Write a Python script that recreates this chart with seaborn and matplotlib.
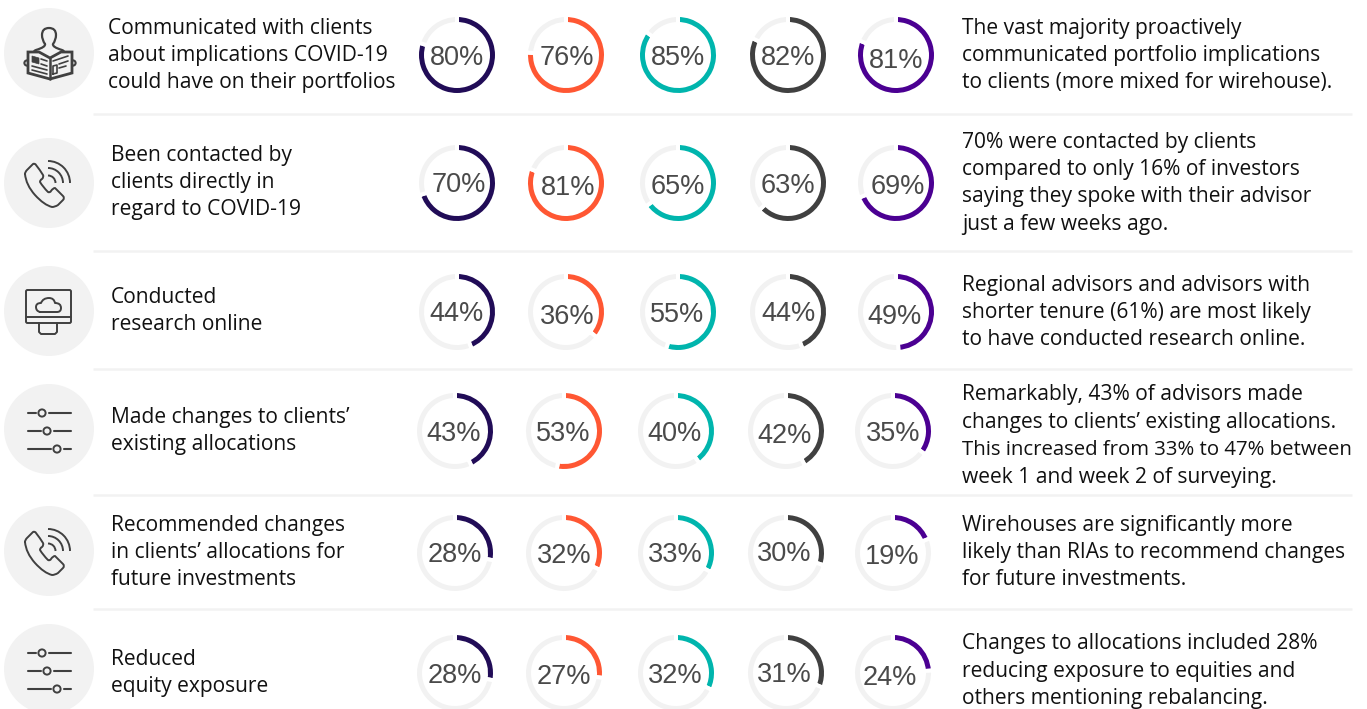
import matplotlib
matplotlib.use("Agg")
import matplotlib.pyplot as plt
from matplotlib.patches import Arc, Circle, FancyBboxPatch, Polygon
from matplotlib.path import Path
from matplotlib.patches import PathPatch
import seaborn as sns

# Survey results, one row per advisor action, one value per advisor segment
row_labels = [
    ["Communicated with clients", "about implications COVID-19", "could have on their portfolios"],
    ["Been contacted by", "clients directly in", "regard to COVID-19"],
    ["Conducted", "research online"],
    ["Made changes to clients’", "existing allocations"],
    ["Recommended changes", "in clients’ allocations for", "future investments"],
    ["Reduced", "equity exposure"],
]
segment_a = [80, 70, 44, 43, 28, 28]
segment_b = [76, 81, 36, 53, 32, 27]
segment_c = [85, 65, 55, 40, 33, 32]
segment_d = [82, 63, 44, 42, 30, 31]
segment_e = [81, 69, 49, 35, 19, 24]
commentary = [
    ["The vast majority proactively", "communicated portfolio implications", "to clients (more mixed for wirehouse)."],
    ["70% were contacted by clients", "compared to only 16% of investors", "saying they spoke with their advisor", "just a few weeks ago."],
    ["Regional advisors and advisors with", "shorter tenure (61%) are most likely", "to have conducted research online."],
    ["Remarkably, 43% of advisors made", "changes to clients’ existing allocations.", "This increased from 33% to 47% between", "week 1 and week 2 of surveying."],
    ["Wirehouses are significantly more", "likely than RIAs to recommend changes", "for future investments."],
    ["Changes to allocations included 28%", "reducing exposure to equities and", "others mentioning rebalancing."],
]
segments = [segment_a, segment_b, segment_c, segment_d, segment_e]
palette = sns.color_palette(["#210C57", "#FF5733", "#00B5AD", "#404040", "#4B0092"])

sns.set_theme(style="white")
plt.rcParams["font.family"] = ["Open Sans", "DejaVu Sans"]

fig = plt.figure(figsize=(13.67, 7.09), dpi=100, facecolor="white")
ax = fig.add_axes([0, 0, 1, 1])

# Layout in pixels: y grows downward
donut_x = [[457, 566, 678, 788, 896]] * 3 + [[455, 564, 676, 786, 893]] * 3
donut_y = [55, 183, 312, 431, 553, 673]
pct_nudge = [
    [(0, 0), (1, 0), (0, 0), (0, 0), (0, 3)],
    [(2, -1), (2, 2), (0, 1), (0, 0), (2, 1)],
    [(0, -1), (1, 2), (-1, 0), (0, -1), (-1, 2)],
    [(-1, 0), (-1, 0), (-2, 0), (-1, 2), (0, 0)],
    [(0, -1), (0, 0), (-1, -1), (-2, -2), (-1, 1)],
    [(0, 0), (0, 1), (-1, 0), (-2, -1), (-3, 2)],
]
label_x = [108, 111, 111, 111, 111, 111]
label_y = [[34, 61, 88], [161, 188, 215], [303, 330], [423, 450], [531, 558, 585], [665, 692]]
note_y = [[34, 61, 88], [148, 175, 202, 230], [291, 318, 345], [400, 428, 455, 483], [531, 558, 585], [649, 677, 704]]
rules_y = [114, 251, 369, 495, 609]
badge_y = [53, 183, 311, 429, 551, 669]
BADGE_X = 49
INK = "#404040"
TRACK = "#F2F2F2"
TEXT_SIZE = 15.15
DIGIT_HEAVY_LINE = "This increased from 33% to 47% between"

for y in rules_y:
    ax.plot([93, 1352], [y, y], color=TRACK, lw=1.8, solid_capstyle="butt", zorder=1)

# Ring geometry: the white wedge edge opens the gaps between the arcs and
# trims halo_px from each rim, so the wedge is drawn that much wider
R = 38
RING = 5
halo_px = 2
for r, (xs, y) in enumerate(zip(donut_x, donut_y)):
    for c, x in enumerate(xs):
        value = segments[c][r]
        # On the flipped y axis a counter-clockwise pie reads clockwise from 12 o'clock
        ax.pie([value, 100 - value], colors=[palette[c], TRACK], startangle=-90,
               counterclock=True, center=(x, y), radius=R + halo_px, frame=True,
               wedgeprops=dict(width=RING + 2 * halo_px, linewidth=2 * halo_px * 0.72, edgecolor="white"))
        dx, dy = pct_nudge[r][c]
        ax.text(x + dx, y + dy, f"{value}%", ha="center", va="center_baseline",
                fontsize=19.5, color="#4A4A4A", family="Liberation Sans", zorder=5)

for r, lines in enumerate(row_labels):
    for line, y in zip(lines, label_y[r]):
        ax.text(label_x[r], y, line, ha="left", va="baseline", fontsize=TEXT_SIZE, color="#111111", zorder=5)
for r, lines in enumerate(commentary):
    for line, y in zip(lines, note_y[r]):
        size = 14.7 if line == DIGIT_HEAVY_LINE else TEXT_SIZE
        ax.text(962, y, line, ha="left", va="baseline", fontsize=size, color="#111111", zorder=5)


def stroke(points, cx, cy, lw=1.4, color=INK):
    ax.plot([cx + p[0] for p in points], [cy + p[1] for p in points], color=color, lw=lw,
            solid_capstyle="round", solid_joinstyle="round", zorder=4)


def curve(start, controls, cx, cy, lw=1.4):
    # Chain of quadratic segments: controls holds (control, end) pairs
    verts = [(cx + start[0], cy + start[1])]
    codes = [Path.MOVETO]
    for ctrl, end in controls:
        verts += [(cx + ctrl[0], cy + ctrl[1]), (cx + end[0], cy + end[1])]
        codes += [Path.CURVE3, Path.CURVE3]
    ax.add_patch(PathPatch(Path(verts, codes), fc="none", ec=INK, lw=lw, capstyle="round", joinstyle="round", zorder=4))


def reader_icon(cx, cy):
    # Head and shoulders outline rising behind an open newspaper
    curve((-4, -9), [((-7, -13), (-7, -18)), ((-7, -25), (0, -25)), ((7, -25), (7, -18)), ((7, -13), (4, -9)),
                     ((3, -6), (13, -3)), ((16, -2), (16, 1))], cx, cy, 1.6)
    curve((-4, -9), [((-3, -6), (-13, -3)), ((-16, -2), (-16, 1))], cx, cy, 1.6)
    ax.add_patch(Polygon([(cx - 21, cy - 1), (cx - 10, cy - 1), (cx + 1, cy + 5), (cx + 12, cy - 1), (cx + 23, cy - 1),
                          (cx + 23, cy + 20), (cx + 1, cy + 26), (cx - 21, cy + 20)],
                         closed=True, fc=TRACK, ec=INK, lw=2, zorder=4))
    stroke([(1, 5), (1, 26)], cx, cy, 1.8)
    for sx in (-22, 24):
        ax.add_patch(Circle((cx + sx, cy + 10), 2.6, fc=TRACK, ec=INK, lw=1.5, zorder=3))
    ax.add_patch(Polygon([(cx - 17, cy + 3), (cx - 10, cy + 5), (cx - 10, cy + 11), (cx - 17, cy + 9)],
                         closed=True, fc=INK, ec=INK, lw=0.5, zorder=5))
    stroke([(-8, 6), (-2, 8)], cx, cy, 1.2)
    stroke([(-8, 11), (-2, 13)], cx, cy, 1.2)
    stroke([(-17, 13), (-2, 17)], cx, cy, 1.2)
    stroke([(-17, 17), (-2, 21)], cx, cy, 1.2)
    stroke([(4, 8), (19, 3)], cx, cy, 1.2)
    stroke([(10, 11), (19, 8)], cx, cy, 1.2)
    stroke([(10, 15), (17, 13)], cx, cy, 1.2)
    stroke([(4, 21), (8, 20), (8, 12), (4, 13), (4, 21)], cx, cy, 1.2)


def phone_icon(cx, cy):
    curve((-24, -9), [((-24, -11), (-22, -13)), ((-19, -16), (-16, -19)), ((-14, -20), (-13, -18)),
                      ((-9, -13), (-6, -8)), ((-5, -6), (-7, -4)), ((-9, -3), (-9, -1)),
                      ((-6, 4), (-1, 9)), ((1, 10), (2, 8)), ((4, 5), (6, 5)), ((10, 9), (14, 13)),
                      ((16, 15), (14, 17)), ((11, 20), (9, 22)), ((6, 24), (3, 24)),
                      ((-5, 22), (-14, 12)), ((-23, 2), (-24, -9))], cx, cy)
    # Three signal waves sharing a centre near the earpiece
    for radius in (7.5, 15, 22):
        ax.add_patch(Arc((cx - 1, cy), 2 * radius, 2 * radius, theta1=-90, theta2=0, ec=INK, lw=1.4, zorder=4))


def monitor_icon(cx, cy):
    ax.add_patch(FancyBboxPatch((cx - 23, cy - 21), 45, 33, boxstyle="round,pad=0,rounding_size=1.5",
                                fc="none", ec=INK, lw=1.4, zorder=4))
    stroke([(-23, 6), (22, 6)], cx, cy)
    stroke([(-10, 12), (-10, 21), (-8, 23), (6, 23), (8, 21), (8, 12)], cx, cy)
    # Cloud outline inside the screen
    curve((-9, 1), [((-13, 0), (-13, -4)), ((-13, -8), (-8, -8)), ((-6, -13), (0, -13)), ((5, -13), (6, -8)),
                    ((12, -8), (12, -3)), ((12, 1), (8, 1)), ((0, 1), (-9, 1))], cx, cy)


def sliders_icon(cx, cy):
    for dy, knob in ((-16, -7), (2, -2), (20, 8)):
        stroke([(-21, dy), (knob - 6.5, dy)], cx, cy, 1.5)
        stroke([(knob + 6.5, dy), (22, dy)], cx, cy, 1.5)
        ax.add_patch(Circle((cx + knob, cy + dy), 3.6, fc="none", ec=INK, lw=1.4, zorder=4))


icons = [reader_icon, phone_icon, monitor_icon, sliders_icon, phone_icon, sliders_icon]
for y, icon in zip(badge_y, icons):
    ax.add_patch(Circle((BADGE_X, y), 45, fc=TRACK, ec="none", zorder=2))
    icon(BADGE_X, y)

ax.set_xlim(0, 1367)
ax.set_ylim(709, 0)
ax.set_aspect("equal")
ax.axis("off")
fig.savefig("out.png", dpi=100, facecolor="white")
